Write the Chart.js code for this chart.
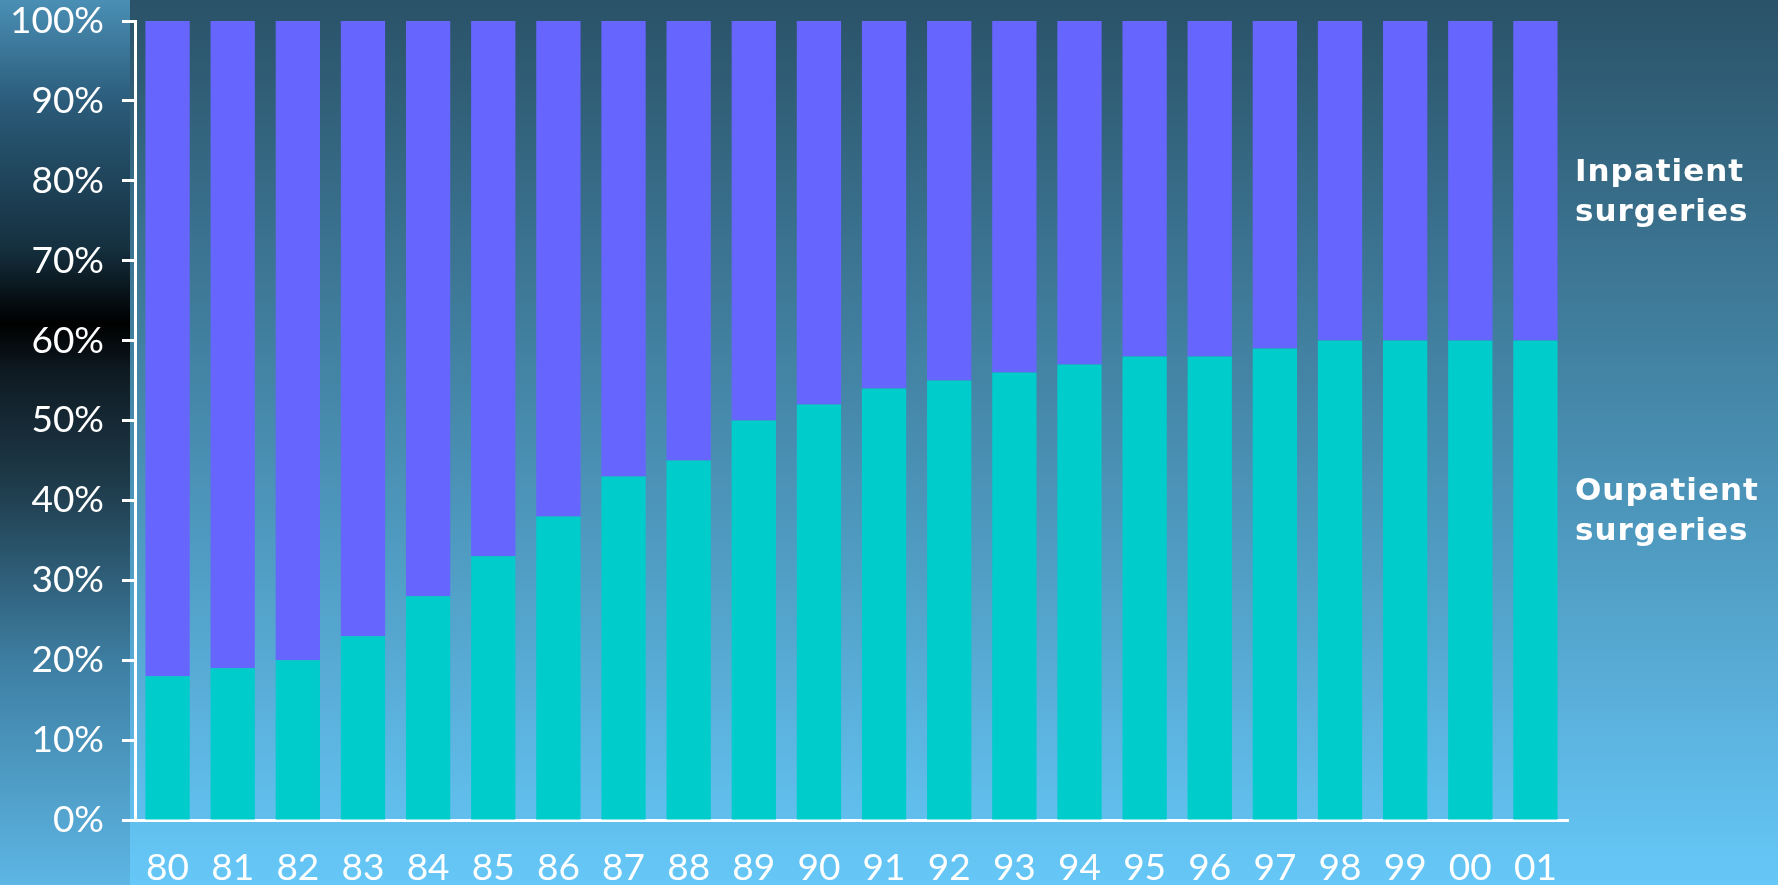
<!DOCTYPE html>
<html>
<head>
<meta charset="utf-8">
<script src="https://cdn.jsdelivr.net/npm/chart.js@4"></script>
<style>
  html, body { margin: 0; padding: 0; }
  body {
    width: 1778px; height: 885px; overflow: hidden; position: relative;
    background: linear-gradient(to bottom, #2a5268 0%, #488db0 50%, #66c8f8 100%);
  }
  #strip {
    position: absolute; left: 0; top: 0; width: 130px; height: 885px;
    background: linear-gradient(to bottom,
      #4a8fb5 0%, #2a5a78 12%, #15303f 28%, #000 36.5%,
      #0e1a22 42%, #1f3c4c 55%, #3e7fa3 75%, #5db6e4 100%);
  }
  #chart { position: absolute; left: 0; top: 0; }
</style>
</head>
<body>
<div id="strip"></div>
<canvas id="chart" width="1778" height="885"></canvas>
<script>
/* ─── data ─── */
const years = ['80', '81', '82', '83', '84', '85', '86', '87', '88', '89', '90',
  '91', '92', '93', '94', '95', '96', '97', '98', '99', '00', '01'];
const outpatient = [18, 19, 20, 23, 28, 33, 38, 43, 45, 50, 52,
  54, 55, 56, 57, 58, 58, 59, 60, 60, 60, 60];
const inpatient = outpatient.map(v => 100 - v);

const seriesLabels = [
  { lines: ['Inpatient', 'surgeries'], at: [80, 75] },
  { lines: ['Oupatient', 'surgeries'], at: [40, 35] },
];

const TEAL = '#00cccc';
const BLUE = '#6666ff';

/* ─── side labels next to the bars ─── */
const sideLabels = {
  id: 'sideLabels',
  afterDraw(chart) {
    const { ctx, chartArea, scales } = chart;
    ctx.save();
    ctx.fillStyle = '#ffffff';
    ctx.font = "bold 31px 'DejaVu Sans', Verdana, sans-serif";
    ctx.textBaseline = 'alphabetic';
    ctx.textAlign = 'left';
    if ('letterSpacing' in ctx) ctx.letterSpacing = '1px';
    seriesLabels.forEach(s => {
      s.lines.forEach((txt, i) => {
        ctx.fillText(txt, chartArea.right + 7, scales.y.getPixelForValue(s.at[i]));
      });
    });
    ctx.restore();
  },
};

new Chart(document.getElementById('chart'), {
  type: 'bar',
  data: {
    labels: years,
    datasets: [
      { label: 'Oupatient surgeries', data: outpatient, backgroundColor: TEAL },
      { label: 'Inpatient surgeries', data: inpatient, backgroundColor: BLUE },
    ],
  },
  options: {
    responsive: false,
    animation: false,
    categoryPercentage: 1,
    barPercentage: 0.68,
    layout: { padding: { top: 21, right: 210, left: 0, bottom: 0 } },
    plugins: { legend: { display: false }, tooltip: { enabled: false } },
    scales: {
      x: {
        stacked: true,
        afterFit: (s) => { s.height = 65; },
        grid: { display: false },
        border: { display: true, color: '#ffffff', width: 3 },
        ticks: {
          color: '#ffffff',
          padding: 18,
          font: { family: 'Lato', size: 37 },
        },
      },
      y: {
        stacked: true,
        min: 0,
        max: 100,
        afterFit: (s) => {
          s.width = 135;
          s.paddingTop = 0;
          s.paddingBottom = 0;
        },
        grid: {
          drawOnChartArea: false,
          drawTicks: true,
          tickLength: 13,
          tickWidth: 3,
          tickColor: '#ffffff',
        },
        border: { display: true, color: '#ffffff', width: 3 },
        ticks: {
          stepSize: 10,
          color: '#ffffff',
          padding: 18,
          font: { family: 'Lato', size: 37 },
          callback: (v) => v + '%',
        },
      },
    },
  },
  plugins: [sideLabels],
});
</script>
</body>
</html>
